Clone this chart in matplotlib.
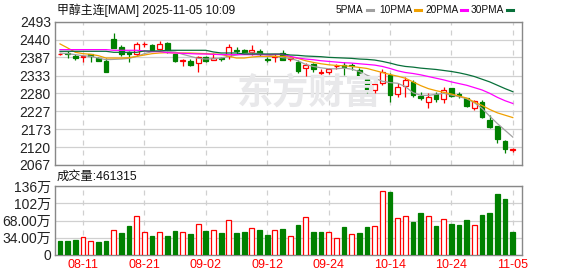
import matplotlib.pyplot as plt
from matplotlib.lines import Line2D

plt.rcParams['font.family'] = ['Liberation Sans', 'Noto Sans CJK SC', 'DejaVu Sans']

# daily candles, 08-06 .. 11-05
opens = [2396, 2401, 2390, 2389, 2396, 2386, 2376, 2441, 2417, 2404,
         2396, 2426, 2424, 2412, 2429, 2398, 2376, 2377, 2370, 2388,
         2378, 2384, 2390, 2409, 2409, 2403, 2405, 2381, 2389, 2400,
         2383, 2374, 2354, 2366, 2341, 2342, 2360, 2364, 2363, 2349,
         2324, 2290, 2310, 2336, 2277, 2302, 2315, 2273, 2253, 2278,
         2262, 2297, 2277, 2267, 2235, 2255, 2200, 2183, 2139, 2112]
highs = [2400, 2406, 2396, 2392, 2398, 2389, 2384, 2459, 2424, 2406,
         2434, 2434, 2426, 2436, 2434, 2398, 2382, 2383, 2390, 2390,
         2400, 2387, 2427, 2417, 2413, 2423, 2412, 2387, 2398, 2410,
         2389, 2379, 2369, 2369, 2351, 2354, 2367, 2374, 2369, 2354,
         2325, 2312, 2352, 2340, 2310, 2328, 2320, 2285, 2282, 2285,
         2298, 2297, 2285, 2267, 2260, 2260, 2215, 2183, 2141, 2117]
lows = [2393, 2386, 2379, 2374, 2374, 2377, 2342, 2416, 2390, 2372,
        2390, 2417, 2405, 2410, 2400, 2374, 2360, 2360, 2342, 2372,
        2378, 2377, 2383, 2397, 2397, 2393, 2390, 2373, 2372, 2378,
        2377, 2341, 2332, 2344, 2330, 2337, 2352, 2336, 2349, 2329,
        2280, 2282, 2305, 2255, 2270, 2270, 2268, 2260, 2235, 2255,
        2252, 2270, 2265, 2238, 2230, 2208, 2176, 2133, 2104, 2107]
closes = [2397, 2396, 2384, 2390, 2392, 2377, 2342, 2416, 2398, 2396,
          2426, 2428, 2410, 2426, 2410, 2376, 2378, 2365, 2387, 2375,
          2385, 2382, 2418, 2406, 2400, 2409, 2397, 2380, 2390, 2378,
          2385, 2346, 2364, 2351, 2343, 2351, 2361, 2359, 2361, 2329,
          2290, 2308, 2342, 2275, 2298, 2320, 2275, 2267, 2268, 2262,
          2290, 2272, 2275, 2243, 2257, 2210, 2181, 2143, 2114, 2114]

ma5 = [2400, 2398, 2395, 2392, 2390, 2385, 2380, 2381, 2382, 2384,
       2390, 2398, 2404, 2406, 2405, 2403, 2396, 2390, 2384, 2382,
       2383, 2385, 2390, 2394, 2398, 2400, 2398, 2394, 2390, 2386,
       2384, 2377, 2366, 2360, 2356, 2353, 2353, 2355, 2352, 2345,
       2334, 2325, 2316, 2312, 2310, 2300, 2282, 2274, 2274, 2277,
       2280, 2275, 2270, 2264, 2252, 2235, 2212, 2190, 2170, 2150]
ma10 = [2427, 2415, 2402, 2398, 2396, 2392, 2385, 2385, 2385, 2386,
        2390, 2394, 2398, 2400, 2401, 2400, 2400, 2400, 2399, 2398,
        2397, 2396, 2390, 2385, 2385, 2388, 2390, 2390, 2390, 2390,
        2388, 2384, 2377, 2372, 2368, 2365, 2363, 2362, 2360, 2357,
        2354, 2348, 2342, 2336, 2331, 2325, 2314, 2303, 2294, 2288,
        2283, 2278, 2272, 2266, 2254, 2244, 2232, 2222, 2215, 2208]
ma20 = [2410, 2410, 2410, 2410, 2410, 2410, 2410, 2408, 2408, 2408,
        2408, 2406, 2404, 2404, 2401, 2400, 2399, 2398, 2397, 2397,
        2396, 2395, 2395, 2395, 2395, 2395, 2395, 2395, 2396, 2396,
        2390, 2385, 2382, 2380, 2377, 2375, 2373, 2371, 2370, 2368,
        2366, 2364, 2360, 2354, 2347, 2342, 2339, 2335, 2330, 2325,
        2320, 2314, 2309, 2304, 2297, 2290, 2280, 2268, 2258, 2250]
ma30 = [2405, 2405, 2405, 2405, 2405, 2405, 2405, 2402, 2402, 2402,
        2402, 2406, 2406, 2406, 2408, 2408, 2408, 2408, 2408, 2408,
        2403, 2400, 2400, 2400, 2397, 2397, 2397, 2397, 2397, 2397,
        2394, 2393, 2391, 2390, 2389, 2387, 2386, 2385, 2384, 2382,
        2381, 2379, 2375, 2370, 2364, 2360, 2358, 2355, 2353, 2351,
        2348, 2345, 2341, 2336, 2330, 2322, 2314, 2304, 2294, 2285]

# volume in 万, colour as drawn
volume = [27.7, 27.7, 29.7, 35.0, 27.0, 25.7, 27.7, 48.8, 43.6, 57.4,
          76.6, 44.9, 37.6, 44.9, 37.6, 47.5, 44.9, 41.6, 60.7, 47.5,
          48.8, 43.6, 68.6, 43.6, 45.5, 52.8, 49.5, 39.6, 48.8, 51.5,
          37.6, 59.4, 74.6, 45.5, 45.5, 44.9, 33.0, 55.4, 40.9, 43.6,
          55.4, 56.8, 126.0, 124.8, 72.6, 76.6, 65.3, 83.2, 76.6, 57.4,
          70.6, 61.4, 59.4, 69.3, 58.7, 79.2, 83.2, 120.8, 110.9, 46.1]
vol_dir = ['g', 'g', 'g', 'r', 'r', 'g', 'g', 'r', 'g', 'g',
           'r', 'r', 'g', 'r', 'g', 'g', 'r', 'g', 'r', 'g',
           'r', 'g', 'r', 'g', 'g', 'r', 'g', 'g', 'r', 'g',
           'r', 'g', 'r', 'g', 'g', 'r', 'r', 'g', 'r', 'g',
           'g', 'r', 'r', 'g', 'r', 'r', 'g', 'g', 'r', 'g',
           'r', 'g', 'g', 'g', 'r', 'g', 'g', 'g', 'g', 'g']

date_pos = [3, 11, 19, 27, 35, 43, 51, 59]
date_labels = ['08-11', '08-21', '09-02', '09-12', '09-24', '10-14', '10-24', '11-05']
price_ticks = [2067, 2120, 2173, 2227, 2280, 2333, 2387, 2440, 2493]
vol_ticks = [0, 34, 68, 102, 136]
vol_labels = ['0', '34.00万', '68.00万', '102万', '136万']

ma_names = ['5PMA', '10PMA', '20PMA', '30PMA']
ma_colors = ['#a0a0a0', '#f0a000', '#ff00ff', '#08703a']

RED = '#ff0000'
GREEN = '#008000'
GRID = '#d0d0d0'
W, H = 578, 276

fig = plt.figure(figsize=(W / 100, H / 100), dpi=100)
ax = fig.add_axes([55 / W, 1 - 165 / H, 467 / W, 143.3 / H])
axv = fig.add_axes([55 / W, 1 - 255 / H, 467 / W, 68.7 / H])

fig.text(309 / W, 1 - 93 / H, '东方财富', fontsize=26, fontweight='bold',
         color='#e8e8ea', ha='center', va='center', family=['Noto Sans CJK SC'], zorder=0)

x = list(range(len(opens)))
bw = 0.62
for i in x:
    o, h, l, c = opens[i], highs[i], lows[i], closes[i]
    up = c >= o
    col = RED if up else GREEN
    ax.vlines(i, l, h, color=col, lw=0.9, zorder=3)
    body = max(abs(c - o), 0.6)
    ax.bar(i, body, bottom=min(o, c), width=bw, facecolor='white' if up else GREEN,
           edgecolor=col, linewidth=0.9, zorder=4)

for vals, col in zip([ma5, ma10, ma20, ma30], ma_colors):
    ax.plot(x, vals, color=col, lw=0.9, zorder=5)

for i in x:
    col = RED if vol_dir[i] == 'r' else GREEN
    axv.bar(i, volume[i], width=bw, facecolor='white' if vol_dir[i] == 'r' else GREEN,
            edgecolor=col, linewidth=0.9, zorder=3)

for a in (ax, axv):
    a.set_xlim(-0.65, 60.2)
    a.set_xticks(date_pos)
    a.grid(axis='x', linestyle=(0, (4, 4)), color=GRID, lw=0.9)
    a.grid(axis='y', linestyle='-', color=GRID, lw=0.9)
    a.set_axisbelow(True)
    a.patch.set_alpha(0)
    for s in a.spines.values():
        s.set_color('#888888')
        s.set_linewidth(1.0)
    a.tick_params(length=0, labelsize=10, colors='#222222', pad=3)

ax.set_ylim(2067, 2493)
ax.set_yticks(price_ticks)
ax.set_yticklabels([str(t) for t in price_ticks])
ax.set_xticklabels([])

axv.set_ylim(0, 136)
axv.set_yticks(vol_ticks)
axv.set_yticklabels(vol_labels)
axv.set_xticklabels(date_labels, color=RED, fontsize=9)

fig.text(57 / W, 1 - 10 / H, '甲醇主连[MAM] 2025-11-05 10:09', fontsize=8.6,
         ha='left', va='center', color='#111111')
fig.text(57 / W, 1 - 177 / H, '成交量:461315', fontsize=8.8,
         ha='left', va='center', color='#111111')

# legend: label then short line
renderer = fig.canvas.get_renderer()
lx = [336, 379, 425, 471]
for name, col, px in zip(ma_names, ma_colors, lx):
    t = fig.text(px / W, 1 - 10 / H, name, fontsize=7.3, ha='left', va='center', color='#111111')
    end = t.get_window_extent(renderer).x1
    fig.add_artist(Line2D([(end + 3) / W, (end + 9) / W], [1 - 10 / H, 1 - 10 / H],
                          color=col, lw=2.2))

fig.savefig('out.png', dpi=100)
